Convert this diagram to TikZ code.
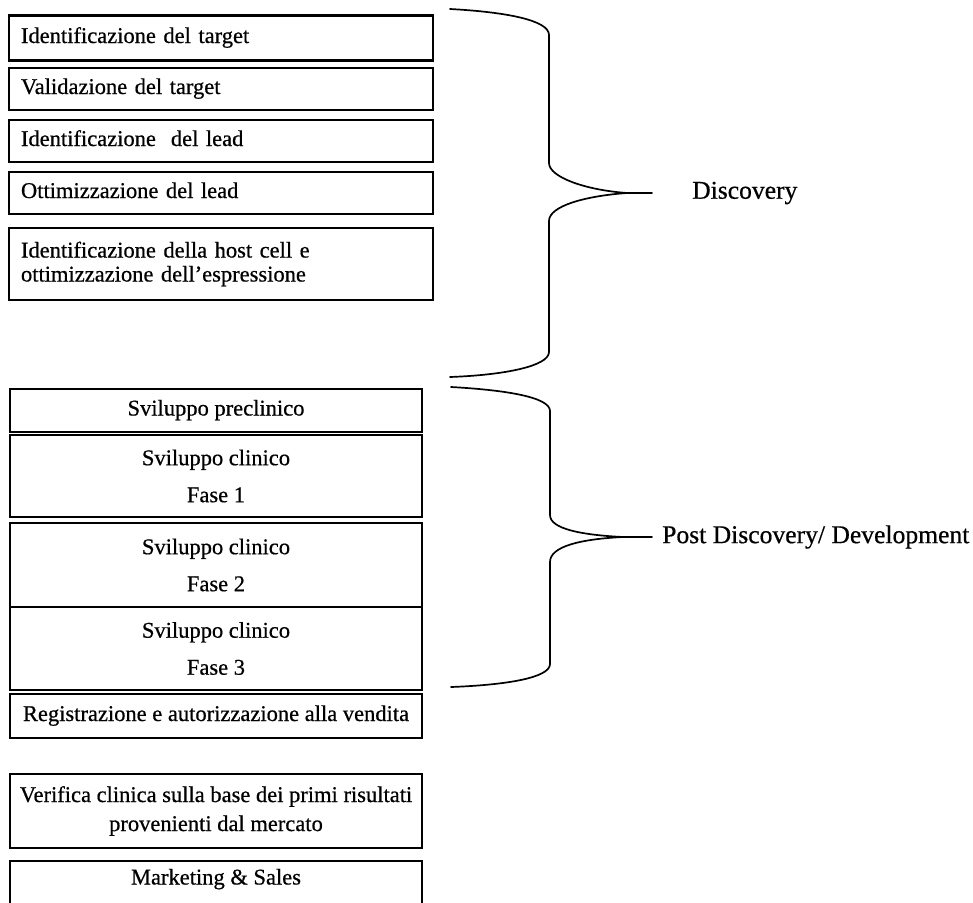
\documentclass[tikz,border=0pt]{standalone}
\usepackage{fontspec}
\setmainfont{Liberation Serif}[FakeBold=0.6]
\begin{document}
\begin{tikzpicture}[x=1pt,y=-1pt,
  box/.style={draw, line width=2.8pt, inner ysep=0pt,
    font=\fontsize{22.5}{27}\selectfont},
  leftbox/.style={box, text width=400pt, inner xsep=12pt, align=left,
    minimum height=42pt},
  midbox/.style={box, minimum width=412pt, inner xsep=0pt, align=center},
  oneline/.style={text height=15pt, text depth=5pt},
  brace/.style={line width=1.7pt, line cap=round, line join=round},
  phase/.style={font=\fontsize{25.6}{30}\selectfont, anchor=west, inner sep=0pt}]
\useasboundingbox (0,0) rectangle (973,902);
\clip (0,0) rectangle (973,902);

% discovery steps
\node[leftbox, oneline, minimum height=44.5pt] (idtarget)  at (221,38) {Identificazione del target};
\node[leftbox, oneline] (valtarget) at (221,89)  {Validazione del target};
\node[leftbox, oneline] (idlead)    at (221,141) {Identificazione~\ del lead};
\node[leftbox, oneline] (optlead)   at (221,193) {Ottimizzazione del lead};
\node[leftbox, minimum height=72pt,
      font=\fontsize{22.5}{24}\selectfont] (hostcell) at (221,264)
  {Identificazione della host cell e\\ottimizzazione dell’espressione};

% development steps
\node[midbox, oneline, minimum height=43pt] (precl) at (216,410.5) {Sviluppo preclinico};
\node[midbox, minimum height=82pt] (fase1) at (216,476) {Sviluppo clinico\\[10pt]Fase 1};
\node[midbox, minimum height=84pt] (fase2) at (216,565) {Sviluppo clinico\\[10pt]Fase 2};
\node[midbox, minimum height=83pt] (fase3) at (216,648.5) {Sviluppo clinico\\[10pt]Fase 3};
\node[midbox, oneline, minimum height=44pt] (registr) at (216,716) {Registrazione e autorizzazione alla vendita};

% after market entry
\node[midbox, minimum height=74pt,
      font=\fontsize{22.5}{29}\selectfont] (verifica) at (216,811)
  {Verifica clinica sulla base dei primi risultati\\provenienti dal mercato};
\node[midbox, text height=16pt, text depth=15pt, minimum height=46pt] (market) at (216,884) {Marketing \& Sales};

% brace for the discovery phase
\coordinate (d-top) at (450,9);
\coordinate (d-tip) at (627,193);
\coordinate (d-end) at (652,193);
\coordinate (d-bot) at (450,377);
\draw[brace] (d-top) .. controls (505,12) and (549,20) .. (549,35)
  -- (549,163) .. controls (549,177) and (585,190) .. (d-tip) -- (d-end);
\draw[brace] (d-tip) .. controls (585,196) and (549,206) .. (549,221)
  -- (549,352) .. controls (549,366) and (505,375) .. (d-bot);
\node[phase] (discovery) at (692,193) {Discovery};

% brace for the development phase
\coordinate (p-top) at (451,387);
\coordinate (p-tip) at (623,537);
\coordinate (p-end) at (652,537);
\coordinate (p-bot) at (451,687);
\draw[brace] (p-top) .. controls (505,390) and (550,397) .. (550,411)
  -- (550,515) .. controls (550,529) and (582,535) .. (p-tip) -- (p-end);
\draw[brace] (p-tip) .. controls (582,539) and (550,546) .. (550,562)
  -- (550,664) .. controls (550,678) and (505,685) .. (p-bot);
\node[phase] (postdisc) at (662,537) {Post Discovery/ Development};
\end{tikzpicture}
\end{document}
